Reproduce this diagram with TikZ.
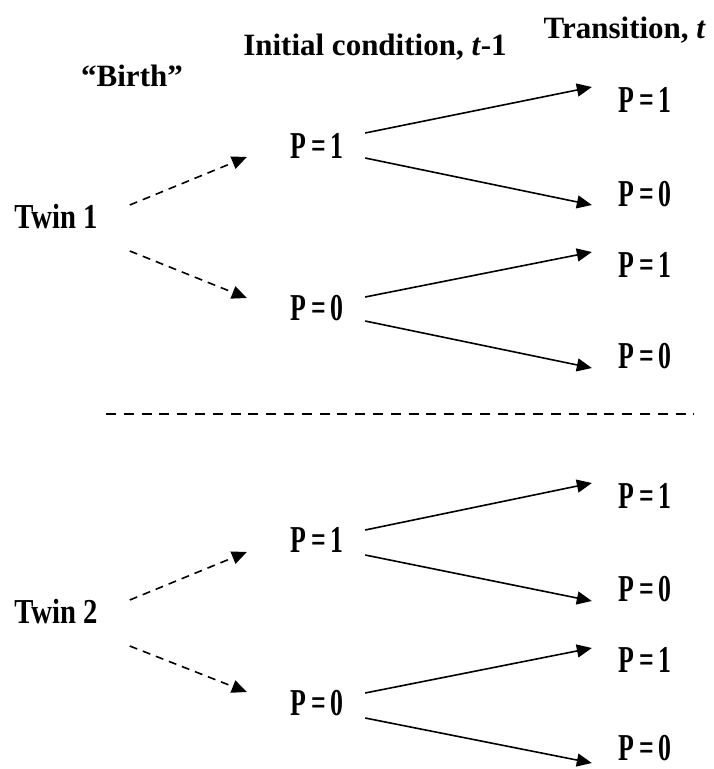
\documentclass[tikz,border=0pt]{standalone}
\usepackage{fontspec}
\setmainfont{Liberation Serif}
\usetikzlibrary{arrows.meta,calc}
\begin{document}
\begin{tikzpicture}[x=1pt,y=-1pt,
  hdr/.style={font=\fontsize{31}{34}\selectfont\bfseries, inner sep=0pt},
  pst/.style={font=\fontsize{38}{40}\selectfont\bfseries, inner sep=0pt, xscale=0.68},
  twn/.style={font=\fontsize{35}{38}\selectfont\bfseries, inner sep=0pt, xscale=0.82},
  arr/.style={line width=1.6pt, -{Triangle[length=15pt,width=13pt]}},
  darr/.style={line width=1.6pt, dash pattern=on 8pt off 6pt, -{Triangle[length=15pt,width=13pt]}},
  sep/.style={line width=2.4pt, dash pattern=on 10pt off 7.8pt}
]
\useasboundingbox (0,0) rectangle (714,769);
\node[hdr] (birth) at (132,76) {“Birth”};
\node[hdr] (init) at (375,47) {Initial condition, \textit{t}-1};
\node[hdr, anchor=east] (trans) at (706,30) {Transition, \textit{t}};

\node[twn] (tw1) at (56,217) {Twin 1};
\node[twn] (tw2) at (56,612) {Twin 2};

\node[pst] (a1) at (317,146) {P\,=\,1};
\node[pst] (a0) at (317,308) {P\,=\,0};
\node[pst] (b1) at (317,540) {P\,=\,1};
\node[pst] (b0) at (317,703) {P\,=\,0};

\node[pst] (ra1) at (645,100) {P\,=\,1};
\node[pst] (ra0) at (645,194) {P\,=\,0};
\node[pst] (rb1) at (645,265) {P\,=\,1};
\node[pst] (rb0) at (645,356) {P\,=\,0};
\node[pst] (rc1) at (645,496) {P\,=\,1};
\node[pst] (rc0) at (645,589) {P\,=\,0};
\node[pst] (rd1) at (645,660) {P\,=\,1};
\node[pst] (rd0) at (645,748) {P\,=\,0};

% dashed birth arrows
\draw[darr] ([shift={(32,-12)}]tw1.east) -- ([shift={(-44,11)}]a1.west);
\draw[darr] ([shift={(32,34)}]tw1.east) -- ([shift={(-44,-10)}]a0.west);
\draw[darr] ([shift={(32,-12)}]tw2.east) -- ([shift={(-44,12)}]b1.west);
\draw[darr] ([shift={(32,34)}]tw2.east) -- ([shift={(-44,-11)}]b0.west);

% transitions
\draw[arr] ([shift={(22,-13)}]a1.east) -- ([shift={(-27,-13)}]ra1.west);
\draw[arr] ([shift={(22,12)}]a1.east) -- ([shift={(-27,11)}]ra0.west);
\draw[arr] ([shift={(22,-11)}]a0.east) -- ([shift={(-27,-13)}]rb1.west);
\draw[arr] ([shift={(22,13)}]a0.east) -- ([shift={(-27,12)}]rb0.west);
\draw[arr] ([shift={(22,-10)}]b1.east) -- ([shift={(-27,-13)}]rc1.west);
\draw[arr] ([shift={(22,15)}]b1.east) -- ([shift={(-27,12)}]rc0.west);
\draw[arr] ([shift={(22,-10)}]b0.east) -- ([shift={(-27,-12)}]rd1.west);
\draw[arr] ([shift={(22,15)}]b0.east) -- ([shift={(-27,15)}]rd0.west);

% separator
\coordinate (s1) at (106,414);
\coordinate (s2) at (694,414);
\draw[sep] (s1) -- (s2);
\end{tikzpicture}
\end{document}
